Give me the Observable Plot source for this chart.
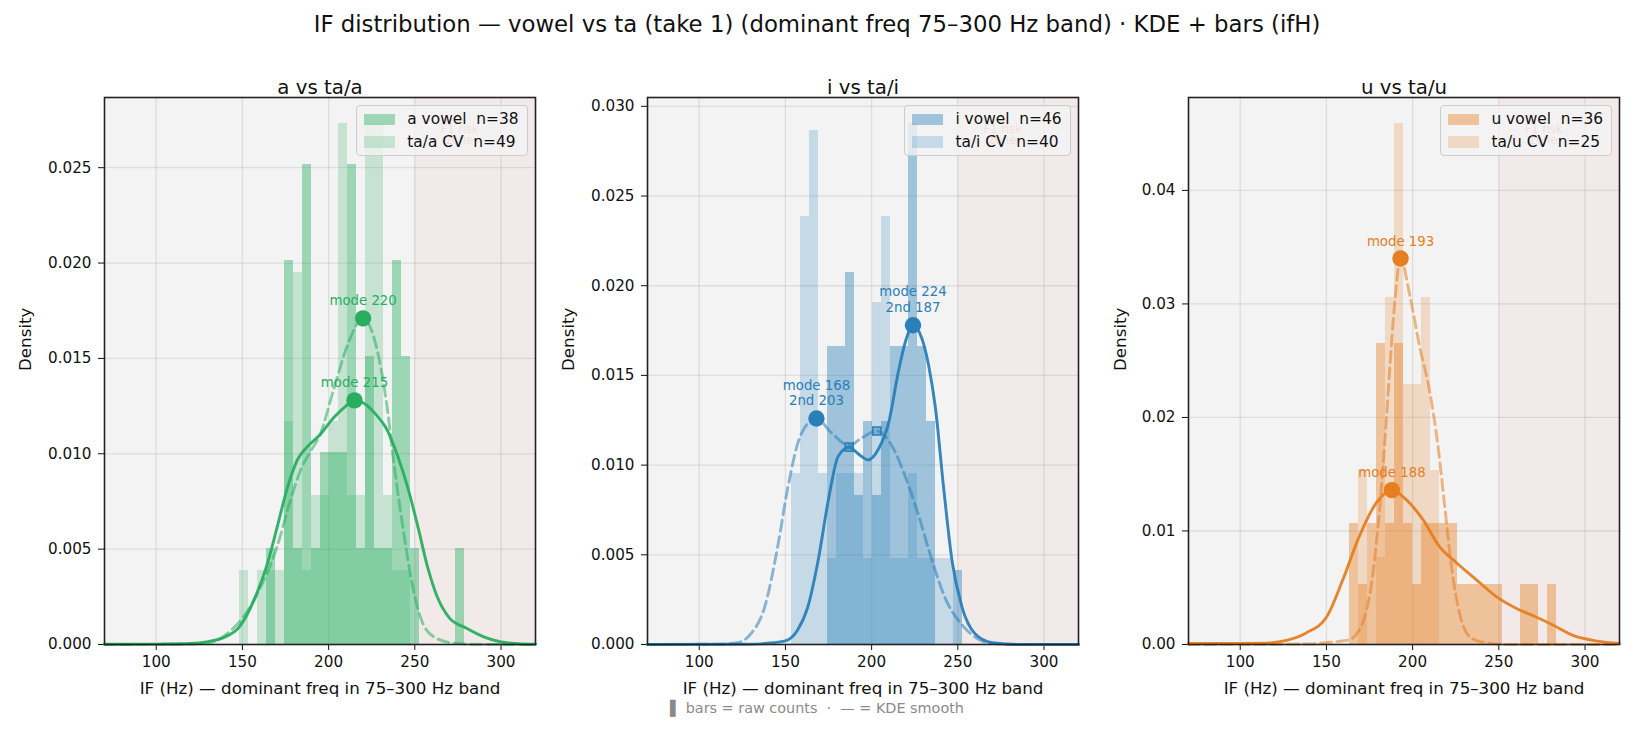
<!DOCTYPE html>
<html>
<head>
<meta charset="utf-8">
<script src="https://cdn.jsdelivr.net/npm/d3@7"></script>
<script src="https://cdn.jsdelivr.net/npm/@observablehq/plot@0.6"></script>
<style>
  body { margin: 0; background: #fff; font-family: "DejaVu Sans", sans-serif; }
  #page { position: relative; width: 1634px; height: 732px; overflow: hidden; background: #fff; }
  #title { position: absolute; left: 0; top: 13px; width: 1634px; text-align: center; font-size: 22.8px; line-height: 23px; color: #111; white-space: pre; }
  #footer { position: absolute; left: 0; top: 699px; width: 1634px; text-align: center; font-size: 14.4px; line-height: 18px; color: #8a8a8a; white-space: pre; }
  .panel { position: absolute; top: 30px; width: 551px; height: 702px; }
  .legend { position: absolute; top: 75px; right: 27px; background: rgba(243,243,243,0.8); border: 1px solid #cccccc; border-radius: 4px; padding: 2px 8px 2px 7px; font-size: 15.4px; color: #111; }
  .legend .row { display: flex; align-items: center; height: 22.5px; white-space: pre; }
  .legend .sw { width: 31px; height: 11.5px; margin-right: 12px; flex: none; }
</style>
</head>
<body>
<div id="page">
  <div id="title"></div>
  <div class="panel" id="p1" style="left:3.5px"></div>
  <div class="panel" id="p2" style="left:546.5px"></div>
  <div class="panel" id="p3" style="left:1088px"></div>
  <div id="footer"></div>
</div>
<script>
// ---------- shared text & scales ----------
const chartTitle = "IF distribution — vowel vs ta (take 1) (dominant freq 75–300 Hz band) · KDE + bars (ifH)";
const footerText = "▌ bars = raw counts  ·  — = KDE smooth";
const xLabel = "IF (Hz) — dominant freq in 75–300 Hz band";
const yLabel = "Density";
const xDomain = [70, 320];
const xTicks = [100, 150, 200, 250, 300];
const f1Zone = [250, 320];
const f1Label = "F1 risk\nzone";
const f1LabelHz = 276;

// ---------- panel a ----------
const aTitle = "a vs ta/a";
const aColor = "#27ae60";
const aLegend = ["a vowel  n=38", "ta/a CV  n=49"];
const aN = [38, 49];
const aBinStart = 148.3, aBinWidth = 5.23;
const aVowelCounts = [0,0,0,1,0,4,1,5,1,2,2,2,5,1,3,1,1,4,3,1,0,0,0,0,1];
const aCvCounts    = [1,0,1,1,1,3,5,1,2,2,3,7,2,2,7,7,2,1,1,0,0,0,0,0,0];
const aKdeVowel = [[70,0.00001],[100,0.00002],[120,0.00005],[130,0.00015],[140,0.0004],[148,0.0009],[158,0.0026],[164,0.0041],[170,0.0061],[176,0.0082],[182,0.0097],[188,0.0104],[195,0.0110],[203,0.0119],[210,0.0125],[215,0.0128],[222,0.01255],[228,0.0120],[233,0.0114],[240,0.0099],[246,0.0082],[252,0.0061],[257,0.0042],[263,0.0025],[270,0.0014],[280,0.00085],[290,0.0004],[300,0.00013],[310,0.00004],[320,0.00001]];
const aKdeCv = [[70,0],[120,0.00002],[131,0.0001],[141,0.00056],[151,0.0015],[160,0.0029],[170,0.0051],[178,0.0076],[184,0.0092],[190,0.0102],[195,0.0110],[203,0.0134],[211,0.0157],[220,0.0171],[228,0.0155],[234,0.0124],[238,0.0094],[243,0.0062],[248,0.0034],[253,0.0015],[261,0.0004],[273,0.00007],[285,0.00001],[320,0]];
const aModes = [[215, 0.0128, "mode 215"], [220, 0.0171, "mode 220"]];
const aSecond = [];
const aYTicks = [0, 0.005, 0.010, 0.015, 0.020, 0.025];

// ---------- panel i ----------
const iTitle = "i vs ta/i";
const iColor = "#2980b9";
const iLegend = ["i vowel  n=46", "ta/i CV  n=40"];
const iN = [46, 40];
const iBinStart = 153.4, iBinWidth = 5.24;
const iVowelCounts = [0,0,0,0,4,4,5,2,3,2,3,4,4,7,4,3,0,0,1];
const iCvCounts    = [2,5,6,2,1,2,2,2,1,4,5,1,1,2,1,1,1,1,0];
const iKdeVowel = [[70,0],[130,0.00002],[143,0.0001],[150,0.0002],[157,0.0008],[163,0.0021],[169,0.0047],[175,0.0081],[180.6,0.0105],[187,0.0110],[192,0.01065],[198,0.0103],[204,0.0109],[210,0.0124],[215.5,0.0152],[220,0.0170],[224,0.0178],[229,0.0171],[233,0.0156],[237,0.0132],[241.7,0.0088],[246.6,0.0047],[252.4,0.0021],[260,0.0006],[270,0.0001],[285,0],[320,0]];
const iKdeCv = [[70,0],[110,0.00002],[122,0.0001],[130,0.0006],[138,0.0021],[145.6,0.0055],[151.5,0.0088],[159,0.0117],[168,0.0126],[176.7,0.0118],[187,0.0111],[194,0.0115],[203,0.0119],[211.6,0.0111],[219.4,0.0094],[227.2,0.0072],[235,0.0047],[242.6,0.0026],[252.4,0.0011],[262,0.0003],[270,0.00005],[285,0],[320,0]];
const iModes = [[168, 0.0126, "mode 168\n2nd 203"], [224, 0.0178, "mode 224\n2nd 187"]];
const iSecond = [[187, 0.0110], [203, 0.0119]];
const iYTicks = [0, 0.005, 0.010, 0.015, 0.020, 0.025, 0.030];

// ---------- panel u ----------
const uTitle = "u vs ta/u";
const uColor = "#e67e22";
const uLegend = ["u vowel  n=36", "ta/u CV  n=25"];
const uN = [36, 25];
const uBinStart = 163.4, uBinWidth = 5.23;
const uVowelCounts = [2,1,2,5,2,5,2,1,2,2,2,2,1,1,1,1,1,0,0,1,1,0,1];
const uCvCounts    = [0,2,0,1,4,6,3,3,4,2,0,0,0,0,0,0,0,0,0,0,0,0,0];
const uKdeVowel = [[70,0.0001],[100,0.0001],[115,0.00012],[123,0.00025],[138,0.001],[150,0.0024],[159.5,0.0057],[169,0.0095],[179,0.0125],[188,0.0136],[196,0.0128],[206,0.0110],[215.7,0.0086],[225.4,0.0072],[237,0.0057],[248.7,0.0042],[260,0.0032],[272,0.0024],[281.6,0.0017],[293,0.0008],[307,0.0003],[320,0.0001]];
const uKdeCv = [[70,0],[140,0.00005],[152,0.0002],[163,0.0004],[171,0.0019],[177,0.0063],[181,0.0122],[184,0.0181],[186.6,0.024],[189.5,0.0299],[193,0.0340],[198.3,0.0308],[204,0.0263],[210,0.0222],[214.7,0.0175],[218.6,0.0122],[222.5,0.0069],[227.3,0.0027],[233,0.0007],[241,0.0002],[255,0],[320,0]];
const uModes = [[188, 0.0136, "mode 188"], [193, 0.0340, "mode 193"]];
const uSecond = [];
const uYTicks = [0, 0.01, 0.02, 0.03, 0.04];

// ---------- build ----------
function toBins(counts, start, width, n) {
  return counts.map((c, k) => ({x1: start + k * width, x2: start + (k + 1) * width, y: c / (n * width)}))
               .filter(d => d.y > 0);
}

function panel(cfg) {
  const vBins = toBins(cfg.vowelCounts, cfg.binStart, cfg.binWidth, cfg.n[0]);
  const cBins = toBins(cfg.cvCounts, cfg.binStart, cfg.binWidth, cfg.n[1]);
  const ymax = 1.05 * d3.max([...vBins, ...cBins], d => d.y);
  const px = d => d[0], py = d => d[1];
  const svg = Plot.plot({
    width: 551, height: 702,
    marginLeft: 100, marginRight: 20, marginTop: 67, marginBottom: 88,
    style: {fontFamily: "DejaVu Sans", fontSize: "15.2px", color: "#111", background: "transparent", overflow: "visible"},
    x: {domain: xDomain, ticks: xTicks, tickSize: 6, tickPadding: 6, label: null, tickFormat: d3.format("d")},
    y: {domain: [0, ymax], ticks: cfg.yTicks, tickSize: 6, tickPadding: 7, label: null, tickFormat: d3.format(cfg.yFmt)},
    marks: [
      Plot.frame({fill: "#f3f3f3"}),
      Plot.rect([f1Zone], {x1: d => d[0], x2: d => d[1], fill: "#e74c3c", fillOpacity: 0.05}),
      Plot.ruleX(xTicks, {stroke: "#000", strokeOpacity: 0.09, strokeWidth: 1.3}),
      Plot.ruleY(cfg.yTicks, {stroke: "#000", strokeOpacity: 0.09, strokeWidth: 1.3}),
      Plot.rectY(vBins, {x1: "x1", x2: "x2", y: "y", fill: cfg.color, fillOpacity: 0.42, inset: 0, shapeRendering: "crispEdges"}),
      Plot.rectY(cBins, {x1: "x1", x2: "x2", y: "y", fill: cfg.color, fillOpacity: 0.22, inset: 0, shapeRendering: "crispEdges"}),
      Plot.text([f1Label], {x: () => f1LabelHz, frameAnchor: "top", dy: 27, lineAnchor: "top", text: d => d, fill: "#e74c3c", fillOpacity: 0.6, fontSize: 11.5, lineHeight: 1.0}),
      Plot.line(cfg.kdeCv, {x: px, y: py, stroke: cfg.color, strokeWidth: 2.9, strokeOpacity: 0.55, strokeDasharray: "11,5.5", curve: "monotone-x"}),
      Plot.line(cfg.kdeVowel, {x: px, y: py, stroke: cfg.color, strokeWidth: 2.9, strokeOpacity: 0.95, curve: "monotone-x"}),
      Plot.dot(cfg.second, {x: px, y: py, symbol: "square", r: 4.6, fill: cfg.color, fillOpacity: 0.45, stroke: cfg.color, strokeWidth: 1.5}),
      Plot.dot(cfg.modes, {x: px, y: py, r: 8.2, fill: cfg.color}),
      Plot.text(cfg.modes, {x: px, y: py, text: d => d[2], fill: cfg.color, fontSize: 13.3, lineAnchor: "bottom", dy: -13, lineHeight: 1.2, ariaLabel: "modelabel"}),
      Plot.frame({stroke: "#222", strokeWidth: 1.6}),
      Plot.text([cfg.title], {frameAnchor: "top", dy: -18, text: d => d, fontSize: 19.8, fill: "#111"}),
      Plot.text([yLabel], {frameAnchor: "left", dx: -cfg.yLabelOffset, rotate: -90, text: d => d, fontSize: 16.7, fill: "#111"}),
      Plot.text([xLabel], {frameAnchor: "bottom", dy: 49, text: d => d, fontSize: 16.7, fill: "#111"})
    ]
  });
  const host = document.getElementById(cfg.id);
  host.appendChild(svg);
  // white rounded boxes behind the mode annotations
  svg.querySelectorAll('g[aria-label="modelabel"] text').forEach(t => {
    const bb = t.getBBox();
    const r = document.createElementNS("http://www.w3.org/2000/svg", "rect");
    r.setAttribute("x", bb.x - 3);
    r.setAttribute("y", bb.y - 0.5);
    r.setAttribute("width", bb.width + 6);
    r.setAttribute("height", bb.height + 1);
    r.setAttribute("rx", 3);
    r.setAttribute("fill", "#ffffff");
    r.setAttribute("fill-opacity", 0.72);
    r.setAttribute("stroke", "none");
    const tr = t.getAttribute("transform");
    if (tr) r.setAttribute("transform", tr);
    t.parentNode.insertBefore(r, t);
  });
  // legend
  const lg = document.createElement("div");
  lg.className = "legend";
  const rgb = d3.rgb(cfg.color);
  [[cfg.legend[0], 0.42], [cfg.legend[1], 0.22]].forEach(([label, op]) => {
    const row = document.createElement("div");
    row.className = "row";
    const sw = document.createElement("span");
    sw.className = "sw";
    sw.style.background = `rgba(${rgb.r},${rgb.g},${rgb.b},${op})`;
    const tx = document.createElement("span");
    tx.textContent = label;
    row.appendChild(sw); row.appendChild(tx);
    lg.appendChild(row);
  });
  host.appendChild(lg);
}

document.getElementById("title").textContent = chartTitle;
document.getElementById("footer").textContent = footerText;

panel({id: "p1", title: aTitle, color: aColor, legend: aLegend, n: aN, binStart: aBinStart, binWidth: aBinWidth,
       vowelCounts: aVowelCounts, cvCounts: aCvCounts, kdeVowel: aKdeVowel, kdeCv: aKdeCv,
       modes: aModes, second: aSecond, yTicks: aYTicks, yFmt: ".3f", yLabelOffset: 78.5});
panel({id: "p2", title: iTitle, color: iColor, legend: iLegend, n: iN, binStart: iBinStart, binWidth: iBinWidth,
       vowelCounts: iVowelCounts, cvCounts: iCvCounts, kdeVowel: iKdeVowel, kdeCv: iKdeCv,
       modes: iModes, second: iSecond, yTicks: iYTicks, yFmt: ".3f", yLabelOffset: 78.5});
panel({id: "p3", title: uTitle, color: uColor, legend: uLegend, n: uN, binStart: uBinStart, binWidth: uBinWidth,
       vowelCounts: uVowelCounts, cvCounts: uCvCounts, kdeVowel: uKdeVowel, kdeCv: uKdeCv,
       modes: uModes, second: uSecond, yTicks: uYTicks, yFmt: ".2f", yLabelOffset: 67.5});
</script>
</body>
</html>
